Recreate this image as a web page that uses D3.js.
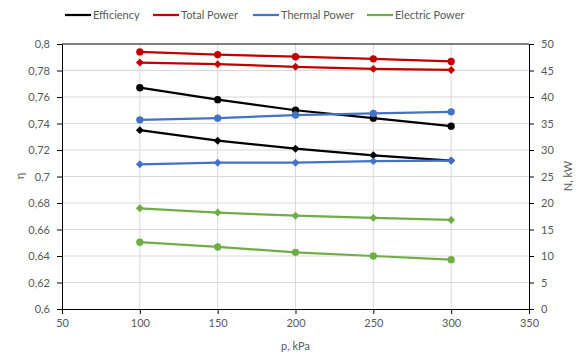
<!DOCTYPE html>
<html>
<head>
<meta charset="utf-8">
<script src="https://cdn.jsdelivr.net/npm/d3@7"></script>
<style>
  body { margin: 0; background: #fff; }
  svg text { font-family: Lato, "Liberation Sans", sans-serif; font-size: 11px; fill: #595959; }
</style>
</head>
<body>
<svg id="chart" width="582" height="356"></svg>
<script>
// data
const pressure = [100, 150, 200, 250, 300];
const effCircle = [0.767, 0.758, 0.750, 0.744, 0.738];
const effDiamond = [0.735, 0.727, 0.721, 0.716, 0.712];
const totalCircle = [48.5, 48.0, 47.6, 47.2, 46.7];
const totalDiamond = [46.5, 46.2, 45.7, 45.3, 45.1];
const thermalCircle = [35.7, 36.0, 36.6, 36.9, 37.2];
const thermalDiamond = [27.3, 27.6, 27.6, 27.9, 28.0];
const electricDiamond = [19.0, 18.2, 17.6, 17.2, 16.8];
const electricCircle = [12.6, 11.7, 10.7, 10.0, 9.3];

const legendNames = ["Efficiency", "Total Power", "Thermal Power", "Electric Power"];
const colors = ["#000000", "#c00000", "#4472c4", "#70ad47"];

// plot area
const plotLeft = 62, plotRight = 529, plotTop = 44, plotBottom = 309;

const svg = d3.select("#chart");

const x = d3.scaleLinear().domain([50, 350]).range([plotLeft, plotRight]);
const yL = d3.scaleLinear().domain([0.6, 0.8]).range([plotBottom, plotTop]);
const yR = d3.scaleLinear().domain([0, 50]).range([plotBottom, plotTop]);

const xTicks = d3.range(50, 351, 50);
const yTicks = d3.range(0, 11).map(i => 0.6 + i * 0.02);
const rTicks = d3.range(0, 51, 5);

// gridlines
const grid = svg.append("g");
grid.selectAll("line.v")
    .data(xTicks.slice(1, -1))
    .enter().append("line")
    .attr("x1", d => x(d)).attr("x2", d => x(d))
    .attr("y1", plotTop).attr("y2", plotBottom)
    .attr("stroke", "#d9d9d9").attr("stroke-width", 1);
grid.selectAll("line.h")
    .data(yTicks.slice(1, -1))
    .enter().append("line")
    .attr("x1", plotLeft).attr("x2", plotRight)
    .attr("y1", d => yL(d)).attr("y2", d => yL(d))
    .attr("stroke", "#d9d9d9").attr("stroke-width", 1);

// top border
svg.append("line")
    .attr("x1", plotLeft).attr("x2", plotRight)
    .attr("y1", plotTop).attr("y2", plotTop)
    .attr("stroke", "#000").attr("stroke-width", 1);

const comma = d => d3.format(".2~f")(d).replace(".", ",");

function styleAxis(g) {
    g.selectAll("path.domain").attr("stroke", "#000");
    g.selectAll(".tick line").attr("stroke", "#000");
    g.selectAll(".tick text").attr("fill", "#595959")
        .style("font-family", "Lato, 'Liberation Sans', sans-serif").style("font-size", "11px");
}

svg.append("g")
    .attr("transform", `translate(0,${plotBottom})`)
    .call(d3.axisBottom(x).tickValues(xTicks).tickSize(5).tickSizeOuter(0).tickPadding(5))
    .call(styleAxis);

svg.append("g")
    .attr("transform", `translate(${plotLeft},0)`)
    .call(d3.axisLeft(yL).tickValues(yTicks).tickFormat(comma).tickSize(5).tickSizeOuter(0).tickPadding(7))
    .call(styleAxis);

svg.append("g")
    .attr("transform", `translate(${plotRight},0)`)
    .call(d3.axisRight(yR).tickValues(rTicks).tickSize(5).tickSizeOuter(0).tickPadding(7))
    .call(styleAxis);

// series
const series = [
    { values: effCircle, scale: yL, color: colors[0], shape: "circle" },
    { values: effDiamond, scale: yL, color: colors[0], shape: "diamond" },
    { values: totalCircle, scale: yR, color: colors[1], shape: "circle" },
    { values: totalDiamond, scale: yR, color: colors[1], shape: "diamond" },
    { values: thermalCircle, scale: yR, color: colors[2], shape: "circle" },
    { values: thermalDiamond, scale: yR, color: colors[2], shape: "diamond" },
    { values: electricDiamond, scale: yR, color: colors[3], shape: "diamond" },
    { values: electricCircle, scale: yR, color: colors[3], shape: "circle" }
];

const circleSym = d3.symbol().type(d3.symbolCircle).size(42);
const diamondSym = d3.symbol().type(d3.symbolDiamond2).size(40);

series.forEach(s => {
    const pts = pressure.map((p, i) => [x(p), s.scale(s.values[i])]);
    svg.append("path")
        .attr("d", d3.line()(pts))
        .attr("fill", "none")
        .attr("stroke", s.color)
        .attr("stroke-width", 2.25);
    svg.append("g").selectAll("path")
        .data(pts)
        .enter().append("path")
        .attr("transform", d => `translate(${d[0]},${d[1]})`)
        .attr("d", s.shape === "circle" ? circleSym() : diamondSym())
        .attr("fill", s.color);
});

// legend
const legendX = [65, 153, 253, 367];
const legend = svg.append("g");
legendNames.forEach((name, i) => {
    legend.append("line")
        .attr("x1", legendX[i]).attr("x2", legendX[i] + 26)
        .attr("y1", 15).attr("y2", 15)
        .attr("stroke", colors[i]).attr("stroke-width", 2.25);
    legend.append("text")
        .attr("x", legendX[i] + 28).attr("y", 19)
        .text(name);
});

// axis titles
svg.append("text")
    .attr("transform", "translate(24,176) rotate(-90)")
    .attr("text-anchor", "middle")
    .text("η");
svg.append("text")
    .attr("transform", "translate(572,176) rotate(-90)")
    .attr("text-anchor", "middle")
    .text("N, kW");
svg.append("text")
    .attr("x", (plotLeft + plotRight) / 2).attr("y", 350)
    .attr("text-anchor", "middle")
    .text("p, kPa");
</script>
</body>
</html>
